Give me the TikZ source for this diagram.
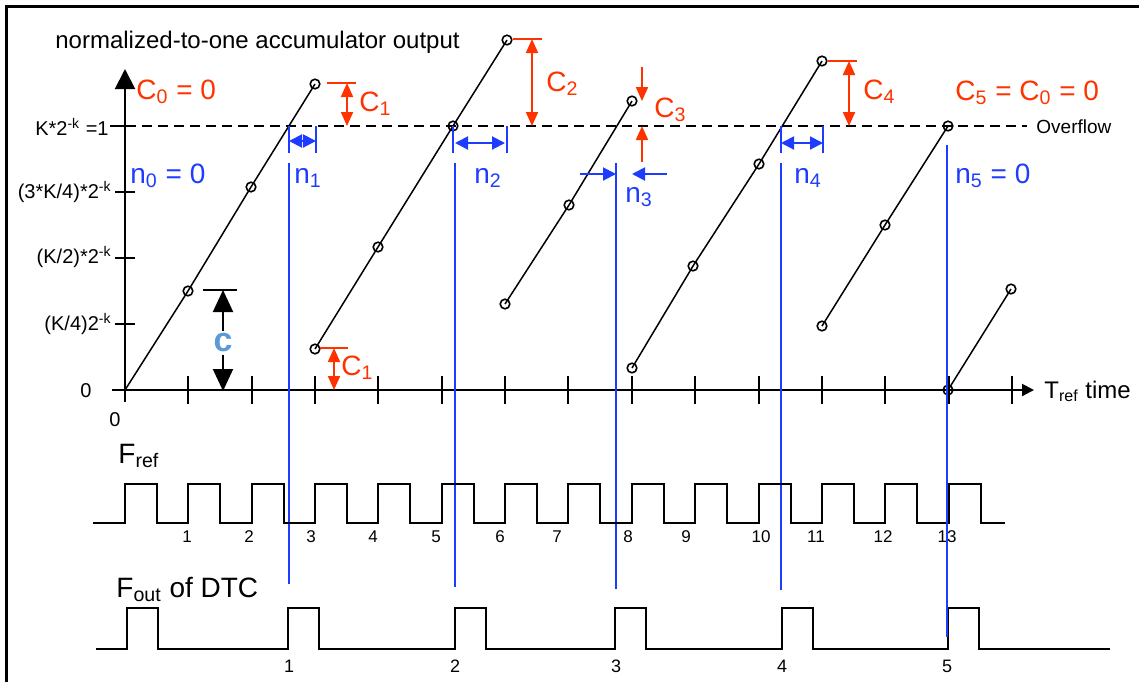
\documentclass[tikz,border=0pt]{standalone}
\usepackage{fontspec}
\setmainfont{Liberation Sans}
\usepackage{xcolor}
\definecolor{accred}{HTML}{FF3300}
\definecolor{accblue}{HTML}{1E3CFF}
\definecolor{acclight}{HTML}{5B9BD5}
\usepackage{tikz}
\usetikzlibrary{arrows.meta}

\begin{document}
\begin{tikzpicture}[x=0.5pt, y=-0.5pt,
  frame/.style={line width=1.5pt},
  axis/.style={line width=1pt},
  ramp/.style={line width=0.75pt},
  sample/.style={line width=0.8pt},
  wave/.style={line width=1pt},
  redmark/.style={accred, line width=1pt},
  redtip/.style={accred, line width=1pt, -{Triangle[length=7pt,width=6pt]}},
  redboth/.style={accred, line width=1pt, {Triangle[length=7pt,width=6pt]}-{Triangle[length=7pt,width=6pt]}},
  bluemark/.style={accblue, line width=0.85pt},
  bluetip/.style={accblue, line width=1pt, -{Triangle[length=6.5pt,width=6.5pt]}},
  blueboth/.style={accblue, line width=1pt, {Triangle[length=6.5pt,width=6.5pt]}-{Triangle[length=6.5pt,width=6.5pt]}},
  blacktip/.style={line width=1pt, -{Triangle[length=11pt,width=10pt]}},
  clab/.style={text=accred, font=\fontsize{14}{16}\selectfont, inner sep=0pt, anchor=west},
  nlab/.style={text=accblue, font=\fontsize{14}{16}\selectfont, inner sep=0pt, anchor=west},
  ylab/.style={font=\fontsize{10}{12}\selectfont, inner sep=0pt, anchor=east},
  tnum/.style={font=\fontsize{8.5}{10}\selectfont, inner sep=0pt},
  onum/.style={font=\fontsize{9}{11}\selectfont, inner sep=0pt}
]
\useasboundingbox (0,0) rectangle (1139,682);
\draw[frame] (6,682) -- (6,6) -- (1139,6);

% axes and ticks
\draw[axis, -{Triangle[length=10pt,width=10pt]}] (125,402) -- (125,69);
\draw[axis, -{Triangle[length=6pt,width=6pt]}] (112,390) -- (1034,390);
\foreach \i in {1,...,14}
  \draw[axis] ({125+63.35*\i},376) -- ({125+63.35*\i},404);
\foreach \lv in {126,192,258,324}
  \draw[axis] (115,\lv) -- (135,\lv);
\draw[axis, dash pattern=on 5pt off 3pt] (110,126) -- (1027,126);

\node[font=\fontsize{12}{14}\selectfont, inner sep=0pt, anchor=west] (title) at (55,42) {normalized-to-one accumulator output};
\node[ylab] (lvone) at (109,127) {K*2\textsuperscript{-k} =1};
\node[ylab] (lvthree) at (112,192) {(3*K/4)*2\textsuperscript{-k}};
\node[ylab] (lvhalf) at (112,257) {(K/2)*2\textsuperscript{-k}};
\node[ylab] (lvquart) at (112,324) {(K/4)2\textsuperscript{-k}};
\node[font=\fontsize{10}{12}\selectfont, inner sep=0pt] (lvzero) at (86,391) {0};
\node[font=\fontsize{10}{12}\selectfont, inner sep=0pt] (tzero) at (115,420) {0};
\node[font=\fontsize{9.5}{11}\selectfont, inner sep=0pt, anchor=west] (ovf) at (1036,127) {Overflow};
\node[font=\fontsize{12}{14}\selectfont, inner sep=0pt, anchor=base west] (tref) at (1044,398) {T\textsubscript{ref} time};

% accumulator ramps
\draw[ramp] (125,390) -- (188,291) -- (251,187) -- (315,84);
\draw[ramp] (315,349) -- (378,247) -- (453,126) -- (507,40);
\draw[ramp] (505,304) -- (569,205) -- (632,101);
\draw[ramp] (632,368) -- (693,266) -- (759,164) -- (822,61);
\draw[ramp] (822,326) -- (885,225) -- (948,126);
\draw[ramp] (948,390) -- (1011,289);
\foreach \p in {(188,291),(251,187),(315,84),(315,349),(378,247),(453,126),(507,40),
    (505,304),(569,205),(632,101),(632,368),(693,266),(759,164),(822,61),
    (822,326),(885,225),(948,126),(948,390),(1011,289)}
  \draw[sample] \p circle[radius=2.4pt];

% carry values
\node[clab] (czero) at (136,92) {C\textsubscript{0} = 0};
\draw[redmark] (327,83) -- (356,83);
\draw[redboth] (347,83) -- (347,126);
\node[clab] (cone) at (359,104) {C\textsubscript{1}};
\draw[redmark] (513,39) -- (542,39);
\draw[redboth] (532,39) -- (532,126);
\node[clab] (ctwo) at (546,84) {C\textsubscript{2}};
\draw[redtip] (642,67) -- (642,101);
\draw[redtip] (642,162) -- (642,126);
\node[clab] (cthree) at (654,110) {C\textsubscript{3}};
\draw[redmark] (828,61) -- (857,61);
\draw[redboth] (849,61) -- (849,126);
\node[clab] (cfour) at (863,92) {C\textsubscript{4}};
\node[clab] (cfive) at (955,93) {C\textsubscript{5} = C\textsubscript{0} = 0};
\draw[redmark] (320,348) -- (348,348);
\draw[redboth] (334,348) -- (334,390);
\node[clab] (conelow) at (341,368) {C\textsubscript{1}};

% step c
\draw[line width=1pt] (203,290) -- (237,290);
\node[text=acclight, font=\fontsize{17}{19}\selectfont\bfseries, inner sep=1pt] (cstep) at (223,343) {c};
\draw[blacktip] (cstep.north) -- (223,290);
\draw[blacktip] (cstep.south) -- (223,391);

% overflow delays
\node[nlab] (nzero) at (130,176) {n\textsubscript{0} = 0};
\draw[bluemark] (289,126) -- (289,153);
\draw[bluemark] (316,126) -- (316,153);
\draw[blueboth] (289,141) -- (316,141);
\draw[bluemark] (289,163) -- (289,584);
\node[nlab] (none) at (294,178) {n\textsubscript{1}};
\draw[bluemark] (453,126) -- (453,153);
\draw[bluemark] (507,126) -- (507,153);
\draw[blueboth] (455,143) -- (505,143);
\draw[bluemark] (455,163) -- (455,587);
\node[nlab] (ntwo) at (474,178) {n\textsubscript{2}};
\draw[bluetip] (580,174) -- (616,174);
\draw[bluetip] (667,174) -- (632,174);
\draw[bluemark] (616,163) -- (616,589);
\node[nlab] (nthree) at (625,197) {n\textsubscript{3}};
\draw[bluemark] (781,126) -- (781,153);
\draw[bluemark] (823,126) -- (823,153);
\draw[blueboth] (781,143) -- (823,143);
\draw[bluemark] (781,163) -- (781,590);
\node[nlab] (nfour) at (794,178) {n\textsubscript{4}};
\node[nlab] (nfive) at (955,176) {n\textsubscript{5} = 0};

% reference clock
\node[font=\fontsize{14}{16}\selectfont, inner sep=0pt, anchor=base west] (fref) at (118,463) {F\textsubscript{ref}};
\draw[wave] (93,523) foreach \k in {0,...,13} { -- ({125+63.35*\k},523) -- ++(0,-39) -- ++(32,0) -- ++(0,39) } -- (1005,523);
\foreach \x/\t in {187/1,249/2,311/3,373/4,436/5,500/6,557/7,628/8,686/9,761/10,816/11,883/12,947/13}
  \node[tnum] (rn\t) at (\x,537) {\t};

% DTC output
\node[font=\fontsize{14}{16}\selectfont, inner sep=0pt, anchor=base west] (fout) at (116,597) {F\textsubscript{out} of DTC};
\draw[wave] (96,649) foreach \x in {127,288,455,615,782,948} { -- (\x,649) -- ++(0,-41) -- ++(31,0) -- ++(0,41) } -- (1110,649);
\foreach \x/\t in {289/1,455/2,616/3,782/4,947/5}
  \node[onum] (on\t) at (\x,666) {\t};
\draw[bluemark] (947,145) -- (947,637);
\end{tikzpicture}
\end{document}
